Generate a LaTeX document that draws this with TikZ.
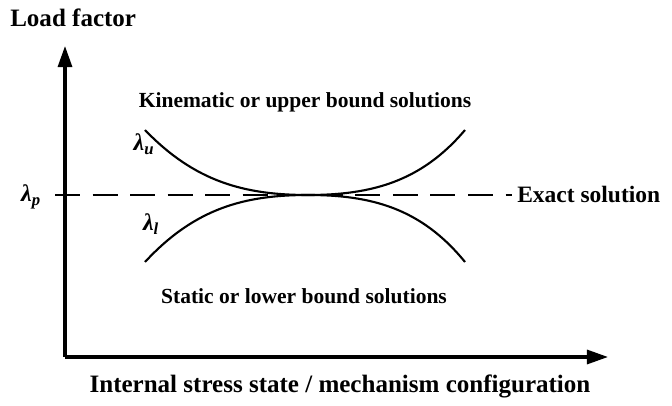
\documentclass[tikz,border=0pt]{standalone}
\usepackage{fontspec}
\setmainfont{Liberation Serif}
\usetikzlibrary{arrows.meta}
\begin{document}
\begin{tikzpicture}[
    x=0.025cm, y=-0.025cm,
    axis/.style={line width=2.2pt, -{Triangle[length=15pt, width=10pt]}},
    bound/.style={line width=1.5pt},
    exact/.style={line width=1.5pt, dash pattern=on 17.8pt off 8.9pt},
    lbl/.style={font=\bfseries\fontsize{15.3}{17}\selectfont},
    big/.style={font=\bfseries\fontsize{17.8}{20}\selectfont},
    sym/.style={font=\bfseries\itshape\fontsize{17}{19}\selectfont, inner sep=0pt},
  ]
    \useasboundingbox (0,0) rectangle (672,406);
    % axes
    \coordinate (origin) at (65,357);
    \coordinate (ytip) at (65,46);
    \coordinate (xtip) at (608,357);
    \draw[axis] (origin) -- (ytip);
    \draw[axis] (origin) -- (xtip);
    \node[big, anchor=west, inner sep=0pt] (ylabel) at (10,18) {Load factor};
    \node[big] (xlabel) at (340,386) {Internal stress state / mechanism configuration};
    % exact solution
    \coordinate (pstart) at (55,195);
    \node[big, font=\bfseries\fontsize{16.7}{19}\selectfont, anchor=west, inner sep=0pt] (exact) at (517,194) {Exact solution};
    \draw[exact, shorten >=3.5pt] (pstart) -- (exact.west |- pstart);
    \node[sym] (lp) at (31,197) {λ\textsubscript{p}};
    % bounds meet at the exact value
    \coordinate (touch) at (308,195);
    \draw[bound] (145,130) .. controls (195,182) and (245,195) .. (touch)
                           .. controls (371,195) and (421,182) .. (465,130);
    \draw[bound] (145,262) .. controls (195,208) and (245,195) .. (touch)
                           .. controls (371,195) and (421,208) .. (465,262);
    \node[sym] (lu) at (144,144) {λ\textsubscript{u}};
    \node[sym] (ll) at (151,224) {λ\textsubscript{l}};
    % region labels
    \node[lbl] (upper) at (305,102) {Kinematic or upper bound solutions};
    \node[lbl] (lower) at (304,296) {Static or lower bound solutions};
\end{tikzpicture}
\end{document}
